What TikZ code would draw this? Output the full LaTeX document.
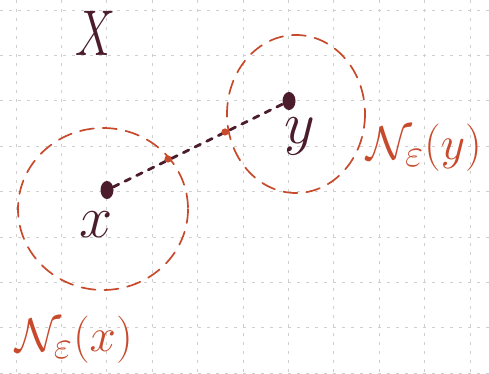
\documentclass[tikz,border=0pt]{standalone}
\usepackage{amsmath}
\usetikzlibrary{shapes.geometric}
\definecolor{ink}{HTML}{4A1C2C}
\definecolor{rust}{HTML}{C84A2C}
\definecolor{gridc}{HTML}{CFCFCF}
\begin{document}
\begin{tikzpicture}[x=1pt,y=-1pt,
  gridline/.style={gridc, line width=0.8pt, dash pattern=on 3pt off 6pt},
  nbhd/.style={rust, line width=1.7pt, dash pattern=on 14pt off 9pt, line cap=round},
  pt/.style={ellipse, fill=ink, minimum width=13pt, minimum height=18pt, inner sep=0pt},
  link/.style={ink, line width=2.8pt, dash pattern=on 6pt off 7pt, line cap=round},
  lab/.style={ink, inner sep=0pt, font=\Huge},
  nlab/.style={rust, inner sep=0pt, font=\Huge, scale=1.9}]
\useasboundingbox (0,0) rectangle (489,374);
\fill[white] (0,0) rectangle (489,374);
% grid
\foreach \gx in {16,61.4,106.8,152.2,197.6,243,288.4,333.8,379.2,424.6,470} {
  \draw[gridline] (\gx,0) -- (\gx,374);
}
\foreach \gy in {10,55.4,100.8,146.2,191.6,237,282.4,327.8,373.2} {
  \draw[gridline] (0,\gy) -- (489,\gy);
}
% neighbourhoods
\draw[nbhd] (103,209) ellipse [x radius=85, y radius=81];
\draw[nbhd] (296,114) ellipse [x radius=69, y radius=79];
% points
\node[pt] (x) at (107,190) {};
\node[pt] (y) at (289,101) {};
\draw[link] (x) -- (y);
% crossing marks
\fill[rust] (168,159) circle (3.6pt);
\fill[rust] (225,132) circle (3.6pt);
% labels
\node[lab, xscale=1.8, yscale=2.6] (X) at (95,33) {$X$};
\node[lab, scale=2.4] (xl) at (96,225) {$x$};
\node[lab, scale=2.4] (yl) at (300,136) {$y$};
\node[nlab] (nx) at (74,340) {$\mathcal{N}_{\varepsilon}(x)$};
\node[nlab] (ny) at (424,148) {$\mathcal{N}_{\varepsilon}(y)$};
\end{tikzpicture}
\end{document}
